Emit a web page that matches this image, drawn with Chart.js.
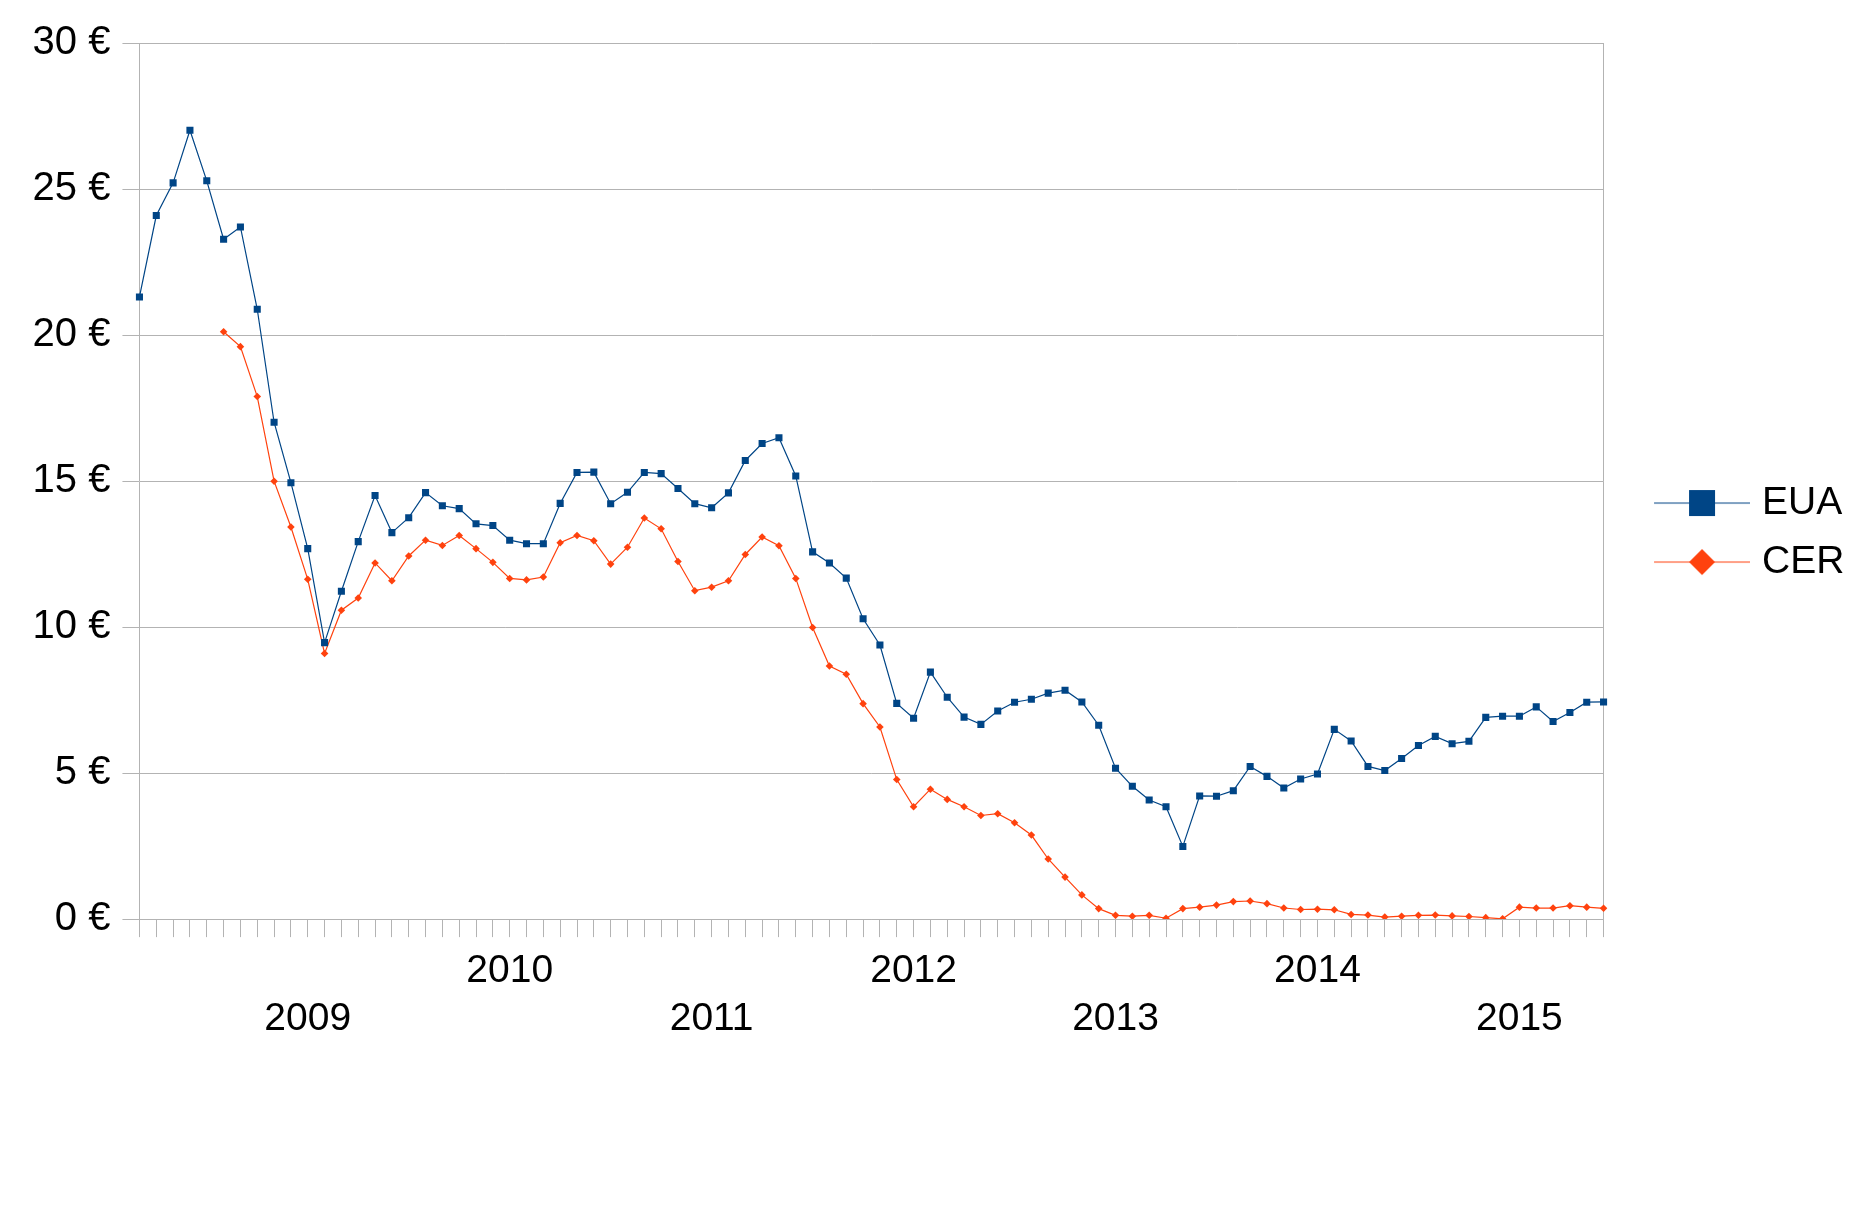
<!DOCTYPE html>
<html>
<head>
<meta charset="utf-8">
<script src="https://cdn.jsdelivr.net/npm/chart.js@4/dist/chart.umd.min.js"></script>
<style>
html,body{margin:0;padding:0;background:#fff;}
#wrap{width:1869px;height:1205px;position:relative;}
</style>
</head>
<body>
<div id="wrap"><canvas id="c"></canvas></div>
<script>
// Monthly categories: March 2008 .. June 2015
const startYear = 2008, startMonth = 3, monthCount = 88;
const months = [];
for (let i = 0; i < monthCount; i++) {
  const m = startMonth - 1 + i;
  months.push((startYear + Math.floor(m / 12)) + '-' + String(m % 12 + 1).padStart(2, '0'));
}

const euaPrices = [
  21.31, 24.10, 25.22, 27.02, 25.29, 23.29, 23.71, 20.89, 17.02, 14.95,
  12.69, 9.47, 11.23, 12.93, 14.51, 13.24, 13.75, 14.61, 14.16, 14.06,
  13.54, 13.48, 12.98, 12.86, 12.86, 14.24, 15.30, 15.31, 14.23, 14.62,
  15.30, 15.26, 14.75, 14.23, 14.09, 14.60, 15.71, 16.29, 16.49, 15.18,
  12.58, 12.20, 11.68, 10.29, 9.39, 7.39, 6.88, 8.46, 7.60, 6.92,
  6.67, 7.13, 7.43, 7.53, 7.74, 7.84, 7.44, 6.64, 5.17, 4.55,
  4.08, 3.85, 2.49, 4.22, 4.21, 4.40, 5.23, 4.89, 4.49, 4.80,
  4.97, 6.50, 6.10, 5.23, 5.09, 5.50, 5.95, 6.26, 6.01, 6.09,
  6.91, 6.95, 6.95, 7.27, 6.77, 7.08, 7.43, 7.44
];

const cerPrices = [
  null, null, null, null, null, 20.12, 19.61, 17.90, 15.00, 13.43,
  11.64, 9.10, 10.58, 11.00, 12.20, 11.59, 12.44, 12.98, 12.80, 13.14,
  12.69, 12.22, 11.67, 11.62, 11.72, 12.89, 13.14, 12.96, 12.16, 12.74,
  13.74, 13.37, 12.25, 11.25, 11.37, 11.59, 12.49, 13.09, 12.79, 11.67,
  9.99, 8.67, 8.39, 7.38, 6.58, 4.78, 3.85, 4.45, 4.10, 3.85,
  3.55, 3.61, 3.30, 2.88, 2.06, 1.44, 0.83, 0.36, 0.13, 0.10,
  0.13, 0.03, 0.36, 0.41, 0.48, 0.60, 0.62, 0.53, 0.38, 0.33,
  0.34, 0.32, 0.16, 0.14, 0.07, 0.10, 0.13, 0.14, 0.11, 0.09,
  0.05, 0.01, 0.41, 0.38, 0.38, 0.46, 0.41, 0.37
];

const seriesNames = ['EUA', 'CER'];
const seriesColors = ['#004586', '#ff420e'];
const yMin = 0, yMax = 30, yStep = 5;

const FONT = "'Liberation Sans', Arial, sans-serif";
Chart.defaults.font.family = FONT;
Chart.defaults.color = '#000';

function legendImage(color, shape) {
  const c = document.createElement('canvas');
  c.width = 134; c.height = 30;
  const g = c.getContext('2d');
  g.strokeStyle = color; g.lineWidth = 1.2;
  g.beginPath(); g.moveTo(38, 15); g.lineTo(134, 15); g.stroke();
  g.fillStyle = color;
  if (shape === 'square') {
    g.fillRect(73, 2, 26, 26);
  } else {
    g.beginPath(); g.moveTo(86, 2); g.lineTo(99, 15); g.lineTo(86, 28); g.lineTo(73, 15); g.closePath(); g.fill();
  }
  return c;
}
const legendImgs = [legendImage(seriesColors[0], 'square'), legendImage(seriesColors[1], 'diamond')];

new Chart(document.getElementById('c'), {
  type: 'line',
  data: {
    labels: months,
    datasets: [
      {
        label: seriesNames[0], data: euaPrices,
        borderColor: seriesColors[0], backgroundColor: seriesColors[0],
        borderWidth: 1.2, tension: 0,
        pointStyle: 'rect', pointRadius: 5, pointBorderWidth: 0,
        pointBackgroundColor: seriesColors[0]
      },
      {
        label: seriesNames[1], data: cerPrices,
        borderColor: seriesColors[1], backgroundColor: seriesColors[1],
        borderWidth: 1.2, tension: 0,
        pointStyle: 'rectRot', pointRadius: 3.8, pointBorderWidth: 0,
        pointBackgroundColor: seriesColors[1]
      }
    ]
  },
  options: {
    responsive: true, maintainAspectRatio: false, animation: false,
    layout: { padding: { left: 20.6, right: 14.6, top: 43.3, bottom: 151.5 } },
    plugins: {
      tooltip: { enabled: false },
      legend: {
        position: 'right', align: 'center', fullSize: false,
        title: { display: true, text: '', padding: { top: 88.3, bottom: 0 }, font: { size: 12, lineHeight: 1.2 } },
        labels: {
          usePointStyle: true, pointStyleWidth: 119, padding: 20,
          color: '#000', font: { size: 39 },
          generateLabels: (chart) => chart.data.datasets.map((ds, i) => ({
            text: ds.label, pointStyle: legendImgs[i], fillStyle: ds.borderColor,
            strokeStyle: ds.borderColor, lineWidth: 0, hidden: false, datasetIndex: i
          }))
        }
      }
    },
    scales: {
      x: {
        type: 'category', offset: false,
        grid: { drawOnChartArea: false, drawTicks: true, tickLength: 18, color: '#b3b3b3', lineWidth: 1 },
        border: { color: '#b3b3b3', width: 1 },
        ticks: {
          autoSkip: false, maxRotation: 0, minRotation: 0, padding: 11,
          color: '#000', font: { size: 39, lineHeight: 1.21 },
          callback: function (value, index) {
            const lab = months[index];
            if (lab.endsWith('-01')) {
              const yr = lab.slice(0, 4);
              return (Number(yr) % 2 === 1) ? ['', yr] : [yr];
            }
            return '';
          }
        }
      },
      y: {
        min: yMin, max: yMax,
        ticks: { stepSize: yStep, padding: 12, color: '#000', font: { size: 40 }, callback: (v) => v + ' €' },
        grid: { color: '#b3b3b3', lineWidth: 1, tickLength: 17 },
        border: { color: '#b3b3b3', width: 1 }
      },
      y2: {
        position: 'right', min: yMin, max: yMax,
        ticks: { display: false },
        grid: { display: false, drawTicks: false },
        border: { display: true, color: '#b3b3b3', width: 1 }
      }
    }
  }
});
</script>
</body>
</html>
